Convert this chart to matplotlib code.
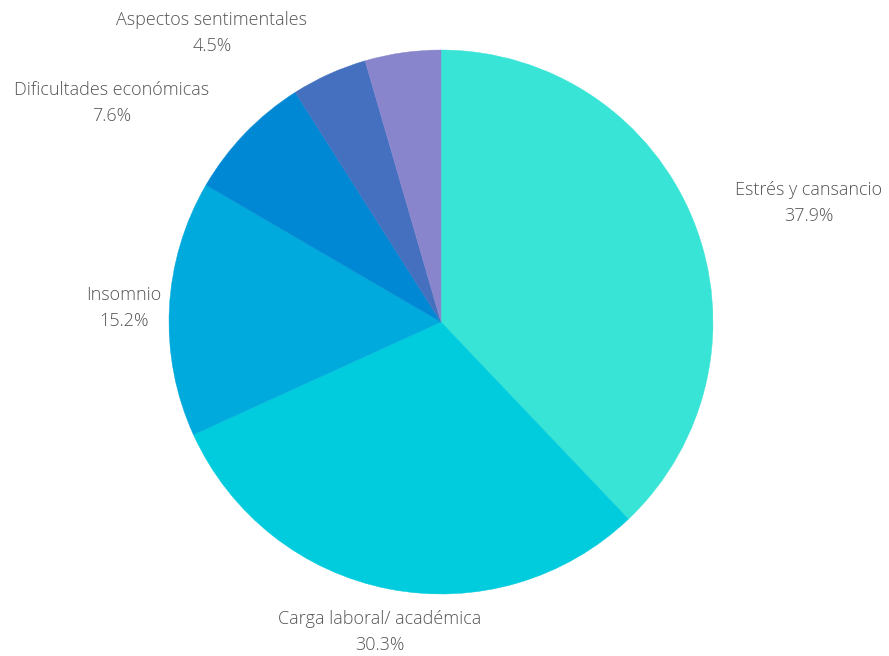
import matplotlib
matplotlib.use("Agg")
import matplotlib.pyplot as plt

categories = ["Estrés y cansancio", "Carga laboral/ académica", "Insomnio",
              "Dificultades económicas", "", "Aspectos sentimentales"]
shares = [37.9, 30.3, 15.2, 7.6, 4.5, 4.5]
colors = ["#38E4D6", "#00CCDD", "#00AADD", "#0088D4", "#4470BF", "#8885CD"]

# label anchor points in pixel coordinates (x, y from top)
label_pos = {
    "Estrés y cansancio": (809, 203),
    "Carga laboral/ académica": (380, 632),
    "Insomnio": (124, 308),
    "Dificultades económicas": (112, 103),
    "Aspectos sentimentales": (212, 33),
}

W, H = 889, 656
fig = plt.figure(figsize=(W / 100, H / 100), dpi=100)
ax = fig.add_axes([0, 0, 1, 1])
ax.set_xlim(0, W)
ax.set_ylim(0, H)
ax.set_aspect("equal")
ax.axis("off")

wedges, _ = ax.pie(shares, colors=colors, startangle=90, counterclock=False,
                   center=(441, H - 322), radius=272,
                   wedgeprops=dict(linewidth=0.3))
for w, c in zip(wedges, colors):
    w.set_edgecolor(c)
ax.set_xlim(0, W)
ax.set_ylim(0, H)

for name, val in zip(categories, shares):
    if not name:
        continue
    x, y = label_pos[name]
    ax.text(x, H - y, f"{name}\n{val:.1f}%", ha="center", va="center",
            fontsize=13, color="#555555", family="Open Sans",
            fontweight="light", linespacing=1.6)

fig.savefig("out.png", dpi=100, facecolor="white")
